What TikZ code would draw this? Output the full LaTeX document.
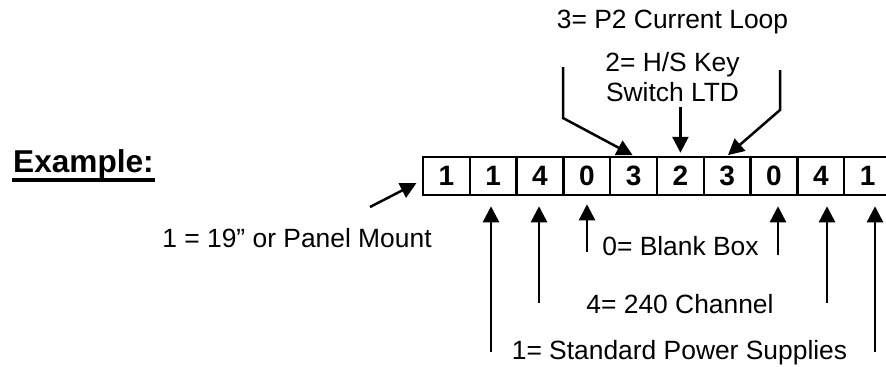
\documentclass[tikz,border=0pt]{standalone}
\usepackage{fontspec}
\setmainfont{Liberation Sans}
\usetikzlibrary{arrows,%
                arrows.meta}

\begin{document}
\begin{tikzpicture}[x=0.5pt, y=-0.5pt, line width=1.25pt]
    \tikzstyle{Cell}=[draw, minimum width=23.4pt, minimum height=19pt, inner sep=0pt, font=\fontsize{14}{16}\selectfont\bfseries]
    \tikzstyle{Label}=[inner sep=0pt, anchor=base, font=\fontsize{13.2}{15}\selectfont]
    \tikzstyle{post}=[-{Triangle[width=8pt,length=8pt]}]
    \useasboundingbox (0,0) rectangle (886,366);
    \node[anchor=base west, inner sep=0pt, font=\fontsize{15.8}{18}\selectfont\bfseries] (ex) at (12,172) {Example:};
    \draw[line width=2pt] (ex.south west) -- (ex.south east);
    \node[Cell] (c1) at (446.4,176) {1};
    \node[Cell] (c2) at (493.2,176) {1};
    \node[Cell] (c3) at (540.0,176) {4};
    \node[Cell] (c4) at (586.8,176) {0};
    \node[Cell] (c5) at (633.6,176) {3};
    \node[Cell] (c6) at (680.4,176) {2};
    \node[Cell] (c7) at (727.2,176) {3};
    \node[Cell] (c8) at (774.0,176) {0};
    \node[Cell] (c9) at (820.8,176) {4};
    \node[Cell] (c10) at (867.6,176) {1};
    \node[Label] (mount) at (297,247) {1 = 19” or Panel Mount};
    \node[Label] (loop) at (672.5,28) {3= P2 Current Loop};
    \node[Label, align=center] (key) at (672.5,101) {2= H/S Key\\Switch LTD};
    \node[Label] (blank) at (680.5,255) {0= Blank Box};
    \node[Label] (chan) at (680,313) {4= 240 Channel};
    \node[Label] (power) at (679.5,359) {1= Standard Power Supplies};
    \coordinate (q1) at (370,207);
    \coordinate (q5) at (563,67);
    \coordinate (k5) at (563,118);
    \coordinate (q6) at (680.4,107);
    \coordinate (q7) at (780,70);
    \coordinate (k7) at (780,110);
    \coordinate (p2) at (491,352);
    \coordinate (p3) at (539,303);
    \coordinate (p4) at (587,252);
    \coordinate (p8) at (778,255);
    \coordinate (p9) at (827,303);
    \coordinate (p10) at (875,352);
    \draw[post, shorten >=3pt] (q1) -- (c1.190);
    \draw[post, shorten >=0.5pt] (q5) -- (k5) -- (c5.north);
    \draw[post, shorten >=1.5pt] (q6) -- (c6);
    \draw[post, shorten >=0.5pt] (q7) -- (k7) -- (c7.north);
    \draw[post, shorten >=5pt] (p2) -- (p2 |- c2.south);
    \draw[post, shorten >=5pt] (p3) -- (p3 |- c3.south);
    \draw[post, shorten >=4pt] (p4) -- (p4 |- c4.south);
    \draw[post, shorten >=5pt] (p8) -- (p8 |- c8.south);
    \draw[post, shorten >=5pt] (p9) -- (p9 |- c9.south);
    \draw[post, shorten >=5pt] (p10) -- (p10 |- c10.south);
\end{tikzpicture}
\end{document}
